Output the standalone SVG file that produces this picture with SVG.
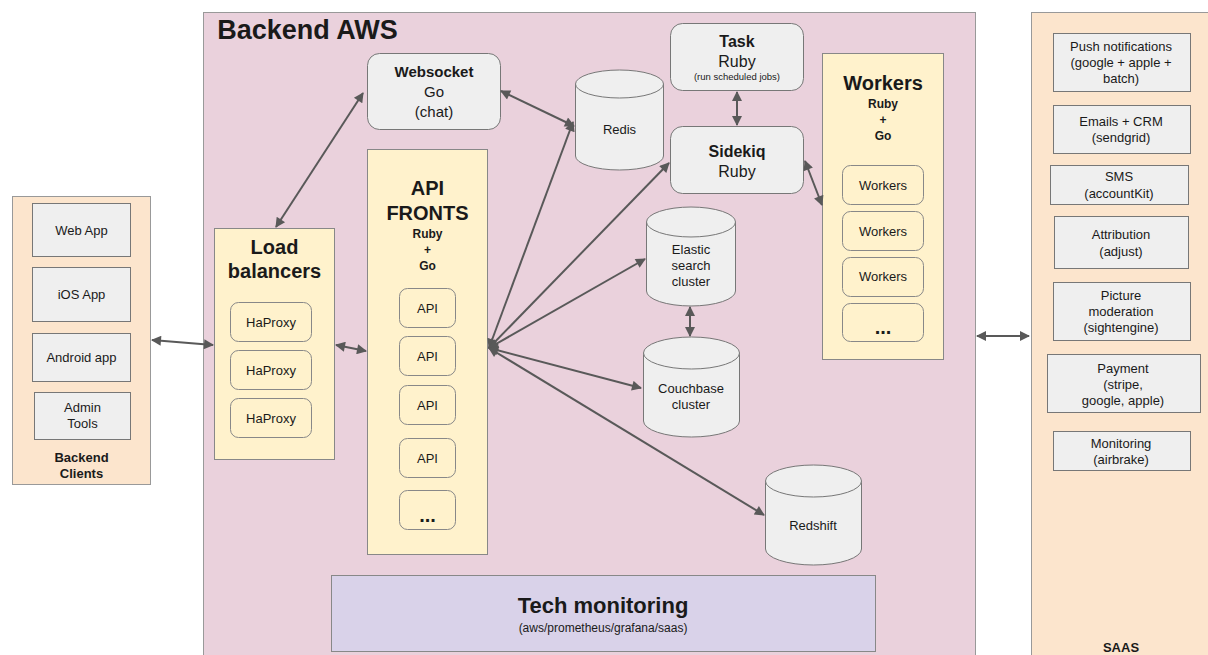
<svg xmlns="http://www.w3.org/2000/svg" width="1208" height="655" viewBox="0 0 1208 655">
<style>
text{font-family:"Liberation Sans",Arial,sans-serif;fill:#1a1a1a;text-anchor:middle}
.t{font-size:13px}
.s{font-size:9.5px}
.b{font-weight:bold}
.h{font-size:20px;font-weight:bold}
.sub{font-size:12px;font-weight:bold}
.panel{fill:#fce5cd;stroke:#999;stroke-width:1}
.aws{fill:#ead1dc;stroke:#999;stroke-width:1}
.grp{fill:#fff2cc;stroke:#888;stroke-width:1}
.gbox{fill:#efefef;stroke:#777;stroke-width:1}
.ybox{fill:#fff2cc;stroke:#888;stroke-width:1}
.cyl{fill:#efefef;stroke:#777;stroke-width:1}
.conn{stroke:#595959;stroke-width:2;fill:none;marker-start:url(#ah);marker-end:url(#ah)}
</style>
<defs>
<marker id="ah" viewBox="0 0 10 10" refX="9" refY="5" markerWidth="12" markerHeight="10" markerUnits="userSpaceOnUse" orient="auto-start-reverse">
<path d="M0,0 L10,5 L0,10 z" fill="#595959"/>
</marker>
</defs>
<rect width="1208" height="655" fill="#ffffff"/>

<g id="backend-aws">
<rect class="aws" x="203.5" y="12.5" width="772" height="660"/>
<text x="307.5" y="39" style="font-size:27px;font-weight:bold">Backend AWS</text>
</g>

<g id="clients">
<rect class="panel" x="12.5" y="196.5" width="138" height="288"/>
<g id="web-app"><rect class="gbox" x="32.5" y="203.5" width="98" height="53"/><text class="t" x="81.5" y="235">Web App</text></g>
<g id="ios-app"><rect class="gbox" x="32.5" y="267.5" width="98" height="54"/><text class="t" x="81.5" y="299">iOS App</text></g>
<g id="android-app"><rect class="gbox" x="32.5" y="333.5" width="98" height="48"/><text class="t" x="81.5" y="362">Android app</text></g>
<g id="admin-tools"><rect class="gbox" x="34.5" y="392.5" width="96" height="47"/><text class="t" x="82.5" y="412">Admin</text><text class="t" x="82.5" y="428">Tools</text></g>
<text class="t b" x="81.5" y="462">Backend</text>
<text class="t b" x="81.5" y="478">Clients</text>
</g>

<g id="load-balancers">
<rect class="grp" x="214.5" y="228.5" width="120" height="231"/>
<text class="h" x="274.5" y="254">Load</text>
<text class="h" x="274.5" y="278">balancers</text>
<rect class="ybox" x="230.5" y="302.5" width="81" height="39" rx="8"/><text class="t" x="271" y="327">HaProxy</text>
<rect class="ybox" x="230.5" y="350.5" width="81" height="39" rx="8"/><text class="t" x="271" y="375">HaProxy</text>
<rect class="ybox" x="230.5" y="398.5" width="81" height="39" rx="8"/><text class="t" x="271" y="423">HaProxy</text>
</g>

<g id="api-fronts">
<rect class="grp" x="367.5" y="149.5" width="120" height="405"/>
<text class="h" x="427.5" y="195">API</text>
<text class="h" x="427.5" y="220">FRONTS</text>
<text class="sub" x="427.5" y="238">Ruby</text>
<text class="sub" x="427.5" y="254">+</text>
<text class="sub" x="427.5" y="270">Go</text>
<rect class="ybox" x="399.5" y="288.5" width="56" height="39" rx="8"/><text class="t" x="427.5" y="313">API</text>
<rect class="ybox" x="399.5" y="336.5" width="56" height="39" rx="8"/><text class="t" x="427.5" y="361">API</text>
<rect class="ybox" x="399.5" y="385.5" width="56" height="39" rx="8"/><text class="t" x="427.5" y="410">API</text>
<rect class="ybox" x="399.5" y="438.5" width="56" height="39" rx="8"/><text class="t" x="427.5" y="463">API</text>
<rect class="ybox" x="399.5" y="490.5" width="56" height="39" rx="8"/><text x="427.5" y="522" style="font-size:20px;font-weight:bold">...</text>
</g>

<g id="websocket">
<rect class="gbox" x="367.5" y="53.5" width="133" height="76" rx="12"/>
<text class="t b" x="434" y="77" style="font-size:15px">Websocket</text>
<text x="434" y="97" style="font-size:15px">Go</text>
<text x="434" y="117" style="font-size:15px">(chat)</text>
</g>

<g id="redis">
<path class="cyl" d="M575.5,84 A44,14 0 0 1 663.5,84 V156 A44,14 0 0 1 575.5,156 Z"/>
<path class="cyl" d="M575.5,84 A44,14 0 0 0 663.5,84" fill="none"/>
<text class="t" x="619.5" y="134">Redis</text>
</g>

<g id="task">
<rect class="gbox" x="670.5" y="23.5" width="133" height="67" rx="12"/>
<text class="b" x="737" y="47" style="font-size:16px">Task</text>
<text x="737" y="67" style="font-size:16px">Ruby</text>
<text class="s" x="737" y="80">(run scheduled jobs)</text>
</g>

<g id="sidekiq">
<rect class="gbox" x="670.5" y="126.5" width="133" height="67" rx="12"/>
<text class="b" x="737" y="157" style="font-size:16px">Sidekiq</text>
<text x="737" y="177" style="font-size:16px">Ruby</text>
</g>

<g id="workers">
<rect class="grp" x="822.5" y="53.5" width="121" height="306"/>
<text class="h" x="883" y="90">Workers</text>
<text class="sub" x="883" y="108">Ruby</text>
<text class="sub" x="883" y="124">+</text>
<text class="sub" x="883" y="140">Go</text>
<rect class="ybox" x="842.5" y="165.5" width="81" height="39" rx="8"/><text class="t" x="883" y="190">Workers</text>
<rect class="ybox" x="842.5" y="211.5" width="81" height="39" rx="8"/><text class="t" x="883" y="236">Workers</text>
<rect class="ybox" x="842.5" y="257.5" width="81" height="39" rx="8"/><text class="t" x="883" y="281">Workers</text>
<rect class="ybox" x="842.5" y="303.5" width="81" height="38" rx="8"/><text x="883" y="334" style="font-size:20px;font-weight:bold">...</text>
</g>

<g id="elastic">
<path class="cyl" d="M646.5,222 A44.5,15 0 0 1 735.5,222 V291 A44.5,15 0 0 1 646.5,291 Z"/>
<path class="cyl" d="M646.5,222 A44.5,15 0 0 0 735.5,222" fill="none"/>
<text class="t" x="691" y="254">Elastic</text>
<text class="t" x="691" y="270">search</text>
<text class="t" x="691" y="286">cluster</text>
</g>

<g id="couchbase">
<path class="cyl" d="M643.5,353 A48,16 0 0 1 739.5,353 V421 A48,16 0 0 1 643.5,421 Z"/>
<path class="cyl" d="M643.5,353 A48,16 0 0 0 739.5,353" fill="none"/>
<text class="t" x="691" y="393">Couchbase</text>
<text class="t" x="691" y="409">cluster</text>
</g>

<g id="redshift">
<path class="cyl" d="M765.5,481 A48,16 0 0 1 861.5,481 V549 A48,16 0 0 1 765.5,549 Z"/>
<path class="cyl" d="M765.5,481 A48,16 0 0 0 861.5,481" fill="none"/>
<text class="t" x="813" y="530">Redshift</text>
</g>

<g id="tech-monitoring">
<rect x="331.5" y="575.5" width="544" height="76" fill="#d9d2e9" stroke="#888"/>
<text x="603" y="613" style="font-size:22px;font-weight:bold">Tech monitoring</text>
<text class="t" x="603" y="632" style="font-size:12px">(aws/prometheus/grafana/saas)</text>
</g>

<g id="saas">
<rect class="panel" x="1031.5" y="12.5" width="200" height="660"/>
<g id="push"><rect class="gbox" x="1053.5" y="33.5" width="137" height="58"/><text class="t" x="1121" y="51">Push notifications</text><text class="t" x="1121" y="67">(google + apple +</text><text class="t" x="1121" y="83">batch)</text></g>
<g id="emails"><rect class="gbox" x="1053.5" y="105.5" width="137" height="48"/><text class="t" x="1121" y="126">Emails + CRM</text><text class="t" x="1121" y="142">(sendgrid)</text></g>
<g id="sms"><rect class="gbox" x="1050.5" y="165.5" width="138" height="39"/><text class="t" x="1119" y="181">SMS</text><text class="t" x="1119" y="198">(accountKit)</text></g>
<g id="attribution"><rect class="gbox" x="1054.5" y="216.5" width="134" height="52"/><text class="t" x="1121" y="239">Attribution</text><text class="t" x="1121" y="256">(adjust)</text></g>
<g id="picture"><rect class="gbox" x="1053.5" y="282.5" width="137" height="58"/><text class="t" x="1121" y="300">Picture</text><text class="t" x="1121" y="316">moderation</text><text class="t" x="1121" y="332">(sightengine)</text></g>
<g id="payment"><rect class="gbox" x="1047.5" y="354.5" width="153" height="58"/><text class="t" x="1123" y="373">Payment</text><text class="t" x="1123" y="389">(stripe,</text><text class="t" x="1123" y="405">google, apple)</text></g>
<g id="monitoring"><rect class="gbox" x="1053.5" y="431.5" width="137" height="39"/><text class="t" x="1121" y="448">Monitoring</text><text class="t" x="1121" y="464">(airbrake)</text></g>
<text class="t b" x="1121" y="652">SAAS</text>
</g>

<g id="connectors">
<line class="conn" x1="152" y1="340" x2="213" y2="345"/>
<line class="conn" x1="336" y1="345" x2="366" y2="351"/>
<line class="conn" x1="363" y1="93" x2="276" y2="227"/>
<line class="conn" x1="501" y1="91" x2="574" y2="126"/>
<line class="conn" x1="737" y1="92" x2="737" y2="125"/>
<line class="conn" x1="805" y1="161" x2="822" y2="205"/>
<line class="conn" x1="690" y1="307" x2="690" y2="336"/>
<line class="conn" x1="489" y1="348" x2="573" y2="122"/>
<line class="conn" x1="489" y1="348" x2="669" y2="163"/>
<line class="conn" x1="489" y1="348" x2="645" y2="259"/>
<line class="conn" x1="489" y1="348" x2="641" y2="388"/>
<line class="conn" x1="489" y1="348" x2="764" y2="515"/>
<line class="conn" x1="977" y1="336" x2="1029" y2="336"/>
</g>
</svg>
